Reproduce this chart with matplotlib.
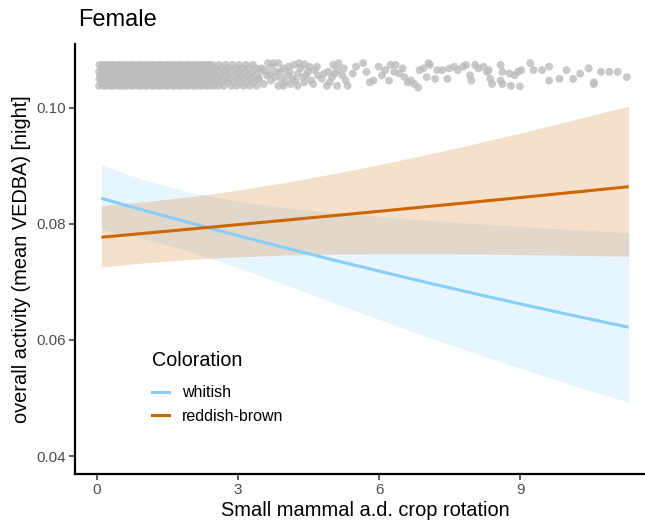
import matplotlib
matplotlib.use("Agg")
import matplotlib.pyplot as plt
from matplotlib.lines import Line2D

plt.rcParams['font.family'] = ['Liberation Sans', 'DejaVu Sans']

# ---------------- data ----------------
x_grid = [0.1, 1, 2, 3, 4, 5, 6, 7, 8, 9, 10, 11, 11.3]

white_fit = [0.0844, 0.08235, 0.08014, 0.07798, 0.07589, 0.07384, 0.07186,
             0.06992, 0.06804, 0.06621, 0.06443, 0.06270, 0.06219]
white_hi = [0.09016, 0.08757, 0.08542, 0.08390, 0.08281, 0.08196, 0.08127,
            0.08064, 0.08008, 0.07956, 0.07908, 0.07861, 0.07847]
white_lo = [0.07901, 0.07744, 0.07519, 0.07248, 0.06955, 0.06653, 0.06354,
            0.06063, 0.05781, 0.05510, 0.05250, 0.05001, 0.04929]

red_fit = [0.0777, 0.07837, 0.07911, 0.07987, 0.08063, 0.08140, 0.08217,
           0.08296, 0.08375, 0.08454, 0.08535, 0.08616, 0.08641]
red_hi = [0.08318, 0.08381, 0.08470, 0.08582, 0.08713, 0.08860, 0.09021,
          0.09194, 0.09375, 0.09566, 0.09765, 0.09970, 0.10033]
red_lo = [0.07258, 0.07328, 0.07389, 0.07433, 0.07462, 0.07478, 0.07485,
          0.07486, 0.07482, 0.07471, 0.07460, 0.07446, 0.07442]

# raw observations (jittered band at the top): dense part, rows
dense_row_y = [0.1038, 0.1044, 0.1050, 0.1056, 0.1062, 0.1068, 0.1074]
dense_row_x = [
    [0.05, 0.14, 0.20, 0.29, 0.34, 0.44, 0.50, 0.58, 0.63, 0.73, 0.78, 0.87, 0.93, 1.02, 1.07, 1.17, 1.22,
     1.31, 1.37, 1.46, 1.51, 1.61, 1.66, 1.75, 1.81, 1.90, 1.95, 2.05, 2.10, 2.19, 2.25, 2.34, 2.40, 2.49],
    [0.09, 0.16, 0.25, 0.31, 0.39, 0.46, 0.54, 0.60, 0.68, 0.75, 0.83, 0.89, 0.97, 1.04, 1.12, 1.19, 1.26,
     1.34, 1.41, 1.48, 1.56, 1.63, 1.70, 1.78, 1.85, 1.92, 2.00, 2.07, 2.14, 2.22, 2.29, 2.36, 2.44, 2.52],
    [0.06, 0.12, 0.21, 0.27, 0.36, 0.42, 0.51, 0.56, 0.65, 0.71, 0.80, 0.85, 0.95, 1.00, 1.09, 1.15, 1.24,
     1.29, 1.38, 1.44, 1.53, 1.58, 1.68, 1.73, 1.83, 1.88, 1.97, 2.02, 2.12, 2.17, 2.27, 2.31, 2.42, 2.47],
    [0.08, 0.17, 0.23, 0.32, 0.38, 0.47, 0.53, 0.61, 0.67, 0.76, 0.82, 0.90, 0.96, 1.05, 1.11, 1.20, 1.25,
     1.35, 1.40, 1.49, 1.55, 1.64, 1.69, 1.79, 1.84, 1.93, 1.99, 2.08, 2.13, 2.23, 2.28, 2.37, 2.43, 2.51],
    [0.05, 0.13, 0.22, 0.28, 0.37, 0.43, 0.52, 0.57, 0.66, 0.72, 0.81, 0.86, 0.96, 1.01, 1.10, 1.16, 1.25,
     1.30, 1.39, 1.45, 1.54, 1.59, 1.69, 1.74, 1.84, 1.89, 1.98, 2.03, 2.13, 2.18, 2.28, 2.32, 2.42, 2.48],
    [0.10, 0.16, 0.26, 0.31, 0.40, 0.45, 0.55, 0.60, 0.69, 0.74, 0.84, 0.89, 0.98, 1.03, 1.13, 1.18, 1.27,
     1.33, 1.42, 1.47, 1.57, 1.62, 1.71, 1.77, 1.86, 1.91, 2.01, 2.06, 2.15, 2.21, 2.30, 2.35, 2.45, 2.50],
    [0.06, 0.14, 0.21, 0.29, 0.35, 0.44, 0.49, 0.58, 0.64, 0.73, 0.79, 0.88, 0.93, 1.02, 1.08, 1.17, 1.23,
     1.32, 1.37, 1.46, 1.52, 1.61, 1.67, 1.76, 1.81, 1.90, 1.96, 2.05, 2.11, 2.20, 2.26, 2.34, 2.39, 2.47],
]
# medium-density part
medium_row_x = [
    [2.58, 2.70, 2.86, 2.97, 3.12, 3.25, 3.40],
    [2.62, 2.77, 2.90, 3.05, 3.18, 3.33],
    [2.56, 2.68, 2.82, 2.99, 3.10, 3.27, 3.44],
    [2.64, 2.75, 2.93, 3.04, 3.21, 3.36],
    [2.57, 2.72, 2.84, 3.00, 3.15, 3.30, 3.47],
    [2.66, 2.79, 2.95, 3.08, 3.23, 3.39],
    [2.60, 2.74, 2.88, 3.02, 3.17, 3.32],
]
# sparse part (individual points)
sparse_x = [3.64, 3.75, 3.86, 3.57, 3.68, 3.79, 3.90, 3.97, 4.08, 4.19, 4.30, 4.41, 4.52, 4.05, 4.16,
            4.27, 4.38, 4.49, 3.86, 3.97, 4.12, 4.27, 4.41, 4.56, 4.63, 4.70, 4.78, 4.89, 4.92, 5.03,
            5.11, 5.14, 5.22, 5.29, 5.33, 5.11, 5.00, 5.44, 5.51, 5.66, 5.73, 5.80, 5.88, 5.99, 6.06,
            6.13, 6.21, 6.24, 6.32, 6.35, 6.43, 6.50, 6.54, 6.61, 6.68, 6.75, 6.83, 6.86, 6.94, 7.01,
            7.05, 7.08, 7.19, 7.23, 7.34, 7.45, 7.49, 7.60, 7.67, 7.78, 7.85, 7.93, 7.96, 8.04, 8.11,
            8.22, 8.29, 8.33, 8.36, 8.40, 8.58, 8.62, 8.58, 8.62, 8.77, 8.80, 8.88, 8.95, 8.99, 9.02,
            9.21, 9.28, 9.46, 9.61, 9.61, 9.83, 9.98, 10.12, 10.27, 10.45, 10.56, 10.56, 10.71, 10.89,
            11.07, 11.26,
            3.45, 3.50, 3.55, 3.62, 3.70, 3.72, 3.82, 3.93, 4.00, 4.10, 4.22, 4.33, 4.45, 4.60, 4.68,
            4.83, 4.95, 5.06, 5.25]
sparse_y = [0.1077, 0.1077, 0.1077, 0.1065, 0.1059, 0.1053, 0.1062, 0.1068, 0.1071, 0.1074, 0.1077,
            0.1075, 0.1071, 0.1056, 0.1050, 0.1059, 0.1053, 0.1062, 0.1038, 0.1038, 0.1041, 0.1038,
            0.1044, 0.1047, 0.1065, 0.1056, 0.1050, 0.1038, 0.1062, 0.1074, 0.1065, 0.1077, 0.1056,
            0.1047, 0.1038, 0.1038, 0.1053, 0.1059, 0.1071, 0.1077, 0.1062, 0.1044, 0.1047, 0.1071,
            0.1056, 0.1065, 0.1047, 0.1074, 0.1062, 0.1074, 0.1059, 0.1068, 0.1053, 0.1044, 0.1047,
            0.1041, 0.1035, 0.1065, 0.1068, 0.1053, 0.1077, 0.1074, 0.1050, 0.1065, 0.1065, 0.1050,
            0.1068, 0.1071, 0.1065, 0.1071, 0.1074, 0.1056, 0.1047, 0.1074, 0.1068, 0.1071, 0.1062,
            0.1065, 0.1050, 0.1041, 0.1074, 0.1062, 0.1047, 0.1041, 0.1059, 0.1038, 0.1056, 0.1062,
            0.1037, 0.1065, 0.1077, 0.1065, 0.1065, 0.1071, 0.1047, 0.1050, 0.1065, 0.1050, 0.1059,
            0.1068, 0.1044, 0.1041, 0.1062, 0.1062, 0.1062, 0.1053,
            0.1050, 0.1068, 0.1041, 0.1056, 0.1047, 0.1071, 0.1062, 0.1050, 0.1044, 0.1062, 0.1047,
            0.1068, 0.1056, 0.1041, 0.1071, 0.1059, 0.1044, 0.1059, 0.1068]

x_ticks = [0, 3, 6, 9]
y_ticks = [0.04, 0.06, 0.08, 0.10]
y_tick_labels = ["0.04", "0.06", "0.08", "0.10"]
legend_labels = ["whitish", "reddish-brown"]

# ---------------- styling ----------------
col_white = "#87CEFA"
col_red = "#CD6600"
pt_col = "#BCBCBC"

fig = plt.figure(figsize=(6.45, 5.21), dpi=100)
ax = fig.add_axes([75 / 645, 47 / 521, 580 / 645, 430 / 521])

ax.fill_between(x_grid, white_lo, white_hi, color=col_white, alpha=0.2, lw=0)
ax.plot(x_grid, white_fit, color=col_white, lw=2.2, solid_capstyle="butt")
ax.fill_between(x_grid, red_lo, red_hi, color=col_red, alpha=0.2, lw=0)
ax.plot(x_grid, red_fit, color=col_red, lw=2.2, solid_capstyle="butt")

px, py = [], []
for yv, xs in zip(dense_row_y, dense_row_x):
    px += xs
    py += [yv] * len(xs)
for yv, xs in zip(dense_row_y, medium_row_x):
    px += xs
    py += [yv] * len(xs)
px += sparse_x
py += sparse_y
ax.scatter(px, py, s=32, color=pt_col, alpha=0.8, edgecolors="none", zorder=3)

ax.set_xlim(-0.46, 11.86)
ax.set_ylim(0.0369, 0.1110)
ax.set_xticks(x_ticks)
ax.set_xticklabels([str(t) for t in x_ticks])
ax.set_yticks(y_ticks)
ax.set_yticklabels(y_tick_labels)

for s in ["top", "right"]:
    ax.spines[s].set_visible(False)
for s in ["left", "bottom"]:
    ax.spines[s].set_linewidth(1.6)
    ax.spines[s].set_color("black")
ax.tick_params(axis="both", length=4, width=1.1, color="#333333",
               labelsize=11, labelcolor="#4D4D4D", pad=2.5)

ax.set_xlabel("Small mammal a.d. crop rotation", fontsize=14.4, labelpad=3)
ax.set_ylabel("overall activity (mean VEDBA) [night]", fontsize=14.4, labelpad=4)

fig.text(78 / 645, 1 - 20 / 521, "Female", fontsize=17, va="center", ha="left")

handles = [Line2D([0], [0], color=col_white, lw=2.2),
           Line2D([0], [0], color=col_red, lw=2.2)]
leg = ax.legend(handles, legend_labels, title="Coloration", loc="upper left",
                bbox_to_anchor=((152 - 75) / 580, (474 - 351) / 430),
                frameon=False, fontsize=11.5, title_fontsize=14.2,
                handlelength=1.05, handletextpad=0.8, labelspacing=0.55,
                borderpad=0, borderaxespad=0, alignment="left")
leg._legend_box.sep = 11

fig.savefig("out.png", dpi=100)
